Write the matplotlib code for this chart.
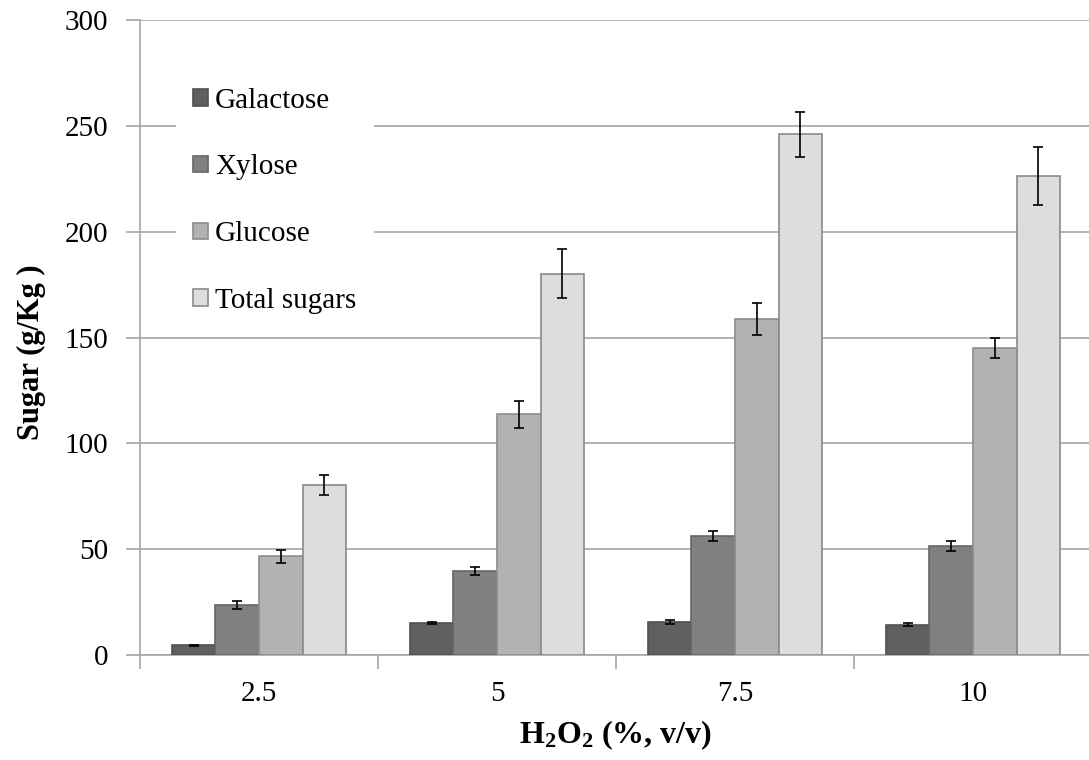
import matplotlib
matplotlib.use("Agg")
import matplotlib.pyplot as plt
import numpy as np

plt.rcParams['font.family'] = ['Liberation Serif', 'DejaVu Serif']
plt.rcParams['mathtext.default'] = 'regular'

# data
h2o2 = ["2.5", "5", "7.5", "10"]
series = ["Galactose", "Xylose", "Glucose", "Total sugars"]
galactose = [4.6, 15.1, 15.6, 14.2]
xylose = [23.6, 39.6, 56.2, 51.4]
glucose = [46.7, 113.7, 158.8, 145.0]
total = [80.3, 180.1, 246.0, 226.3]
galactose_err = [0.3, 0.6, 0.9, 0.7]
xylose_err = [1.9, 1.9, 2.2, 2.4]
glucose_err = [3.0, 6.5, 7.5, 4.8]
total_err = [4.6, 11.6, 10.7, 13.6]

colors = ["#606060", "#808080", "#b2b2b2", "#dddddd"]
edges = ["#505050", "#666666", "#8c8c8c", "#8a8a8a"]

fig = plt.figure(figsize=(10.89, 7.6), dpi=100)
ax = fig.add_axes([140 / 1089, 105 / 760, 952 / 1089, 635 / 760])

x = np.arange(len(h2o2))
w = 0.183
vals = [galactose, xylose, glucose, total]
errs = [galactose_err, xylose_err, glucose_err, total_err]
for i in range(4):
    ax.bar(x + (i - 1.5) * w, vals[i], w, yerr=errs[i], color=colors[i],
           edgecolor=edges[i], linewidth=1.2, label=series[i], zorder=3,
           error_kw=dict(ecolor="black", elinewidth=1.2, capsize=3.8, capthick=1.2))

ax.set_xlim(-0.5, 3.5)
ax.set_ylim(0, 300)
ax.set_yticks(np.arange(0, 301, 50))
ax.yaxis.grid(True, color="#a6a6a6", linewidth=1.2, zorder=0)
ax.set_axisbelow(True)
for s in ["top", "right"]:
    ax.spines[s].set_visible(False)
for s in ["left", "bottom"]:
    ax.spines[s].set_color("#a6a6a6")
    ax.spines[s].set_linewidth(1.2)

ax.set_xticks(x)
ax.set_xticklabels(h2o2)
ax.set_xticks([-0.5, 0.5, 1.5, 2.5], minor=True)
ax.tick_params(axis="x", which="major", length=0, pad=19, labelsize=21)
ax.tick_params(axis="x", which="minor", length=10, color="#a6a6a6", width=1.2)
ax.tick_params(axis="y", length=10, color="#a6a6a6", width=1.2, pad=13, labelsize=21)

ax.set_ylabel("Sugar (g/Kg )", fontsize=22, fontweight="bold")
ax.yaxis.set_label_coords(-0.099, 0.477)
ax.set_xlabel("H$_2$O$_2$ (%, v/v)", fontsize=23, fontweight="bold", labelpad=8)

leg = ax.legend(loc="upper left", bbox_to_anchor=(0.022, 0.944), fontsize=21,
                frameon=True, facecolor="white", edgecolor="none", framealpha=1,
                fancybox=False, handlelength=0.5, handleheight=0.5,
                handletextpad=0.25, labelspacing=1.4, borderpad=0.6)
leg.set_zorder(5)

fig.savefig("out.png", dpi=100)
